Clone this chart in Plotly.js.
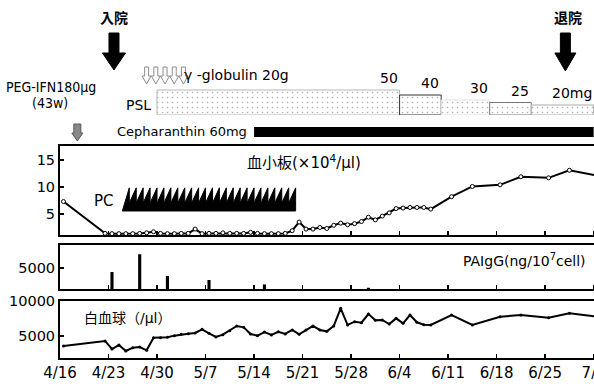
<!DOCTYPE html>
<html><head><meta charset="utf-8">
<script src="https://cdn.plot.ly/plotly-3.0.1.min.js"></script>
<style>html,body{margin:0;padding:0;overflow:hidden;background:#fff}#chart{width:600px;height:388px}</style>
</head><body><div id="chart"></div>
<script>
// ---------- data ----------
const tickDates = ['2004-04-16','2004-04-23','2004-04-30','2004-05-07','2004-05-14','2004-05-21','2004-05-28','2004-06-04','2004-06-11','2004-06-18','2004-06-25','2004-07-02'];
const tickLabels = ['4/16','4/23','4/30','5/7','5/14','5/21','5/28','6/4','6/11','6/18','6/25','7/2'];

const labDates = ['2004-04-16','2004-04-22','2004-04-23','2004-04-24','2004-04-25','2004-04-26','2004-04-27','2004-04-28','2004-04-29','2004-04-30',
  '2004-05-01','2004-05-02','2004-05-03','2004-05-04','2004-05-05','2004-05-06','2004-05-07','2004-05-08','2004-05-09','2004-05-10',
  '2004-05-11','2004-05-12','2004-05-13','2004-05-14','2004-05-15','2004-05-16','2004-05-17','2004-05-18','2004-05-19','2004-05-20',
  '2004-05-21','2004-05-22','2004-05-23','2004-05-24','2004-05-25','2004-05-26','2004-05-27','2004-05-28','2004-05-29','2004-05-30',
  '2004-05-31','2004-06-01','2004-06-02','2004-06-03','2004-06-04','2004-06-05','2004-06-06','2004-06-07','2004-06-08',
  '2004-06-11','2004-06-14','2004-06-18','2004-06-21','2004-06-25','2004-06-28','2004-07-02'];
const plateletValues = [7.3,1.4,1.35,1.35,1.35,1.35,1.4,1.5,1.7,1.4,
  1.35,1.35,1.4,1.4,2.2,1.35,1.4,1.4,1.5,1.4,
  1.4,1.4,1.6,1.4,1.35,1.35,1.35,1.4,1.9,3.5,
  2.2,2.2,2.5,2.3,2.9,3.3,3.0,3.2,3.6,4.4,
  3.9,4.6,5.2,6.0,6.1,6.2,6.2,6.2,5.9,
  8.2,10.1,10.4,11.9,11.7,13.1,12.1];
const wbcValues = [3570,4290,3140,3710,2860,3330,3430,2960,4760,4760,
  4810,5050,5240,5330,5430,5950,5380,4860,5190,5760,
  6430,6240,5290,5050,5570,5140,5610,5290,5860,5240,
  5860,6430,5860,5670,6430,8950,6570,7040,6900,8140,
  7240,7290,6710,7520,6810,8000,6960,6620,6570,
  8000,6570,7760,8000,7620,8240,7760];

const paigDates = ['2004-04-23','2004-04-27','2004-05-01','2004-05-07','2004-05-15','2004-05-30'];
const paigValues = [4050,8300,3100,2150,1100,300];

const pslStart = ['2004-04-30','2004-06-04','2004-06-10','2004-06-17','2004-06-23'];
const pslEnd   = ['2004-06-04','2004-06-10','2004-06-17','2004-06-23','2004-07-02'];
const pslDose  = [50,40,30,25,20];

const cepharStart = '2004-05-14';
const cepharEnd = '2004-07-02';

const pcDays = ['2004-04-25','2004-04-26','2004-04-27','2004-04-28','2004-04-29','2004-04-30','2004-05-01','2004-05-02','2004-05-03',
  '2004-05-04','2004-05-05','2004-05-06','2004-05-07','2004-05-08','2004-05-09','2004-05-10','2004-05-11','2004-05-12',
  '2004-05-13','2004-05-14','2004-05-15','2004-05-16','2004-05-17','2004-05-18','2004-05-19'];
const gammaDays = ['2004-04-28','2004-04-29','2004-04-30','2004-05-01','2004-05-02'];
const pegDate = '2004-04-18';
const admitDate = '2004-04-23';
const dischargeDate = '2004-06-28';

// ---------- helpers ----------
const DAY = 86400000;
function toMs(s){const p=s.split('-').map(Number);return Date.UTC(p[0],p[1]-1,p[2]);}
function fmt(m){return new Date(m).toISOString().slice(0,19).replace('T',' ');}
function noon(s){return fmt(toMs(s)+DAY/2);}
const PH = 358, PW = 540;
const fy = py => (PH-py)/PH;
const fx = px => (px-60)/PW;

const FONT = 'DejaVu Sans, "Noto Sans CJK JP", sans-serif';
const NARROW = '"DejaVu Sans Condensed", "Liberation Sans Narrow", "DejaVu Sans", sans-serif';
const CJK = '"Noto Sans CJK JP", sans-serif';

// ---------- traces ----------
const traces = [];
traces.push({type:'scatter', mode:'lines+markers', x:labDates, y:wbcValues, xaxis:'x', yaxis:'y',
  xperiod:DAY, xperiodalignment:'middle', line:{color:'#000', width:2}, marker:{color:'#000', size:3}, hoverinfo:'skip'});
traces.push({type:'bar', x:paigDates, y:paigValues, xaxis:'x2', yaxis:'y2', xperiod:DAY, xperiodalignment:'middle',
  width:paigDates.map(()=>0.45*DAY), marker:{color:'#000'}, hoverinfo:'skip'});
traces.push({type:'scatter', mode:'lines+markers', x:labDates, y:plateletValues, xaxis:'x3', yaxis:'y3',
  xperiod:DAY, xperiodalignment:'middle', line:{color:'#000', width:2},
  marker:{color:'#fff', size:4, line:{color:'#000', width:1}}, hoverinfo:'skip'});
// PSL dose blocks
traces.push({type:'bar', x:pslStart, y:pslDose, base:0, offset:0, xaxis:'x3', yaxis:'y4',
  width:pslStart.map((s,i)=>toMs(pslEnd[i])-toMs(s)),
  marker:{color:'#fff', pattern:{shape:'.', fgcolor:'#b0b0b0', bgcolor:'#fff', size:5, solidity:0.08},
    line:{color:['#b5b5b5','#333','#e0e0e0','#777','#aaa'], width:1}}, hoverinfo:'skip'});
// Cepharanthin bar
traces.push({type:'bar', x:[cepharStart], y:[1], base:0, offset:0, xaxis:'x3', yaxis:'y5',
  width:[toMs(cepharEnd)-toMs(cepharStart)], marker:{color:'#000', line:{width:0}}, hoverinfo:'skip'});
// PC sawtooth
(function(){
  const bottom=0.27, band=0.36, peak=0.53;
  const xs=[fmt(toMs(pcDays[0]))], ys=[bottom];
  pcDays.forEach((d,i)=>{
    const e=toMs(d)+DAY;
    xs.push(fmt(e)); ys.push(peak);
    xs.push(fmt(e)); ys.push(i===pcDays.length-1?bottom:band);
  });
  xs.push(xs[0]); ys.push(bottom);
  traces.push({type:'scatter', mode:'lines', x:xs, y:ys, fill:'toself', fillcolor:'#000',
    line:{color:'#000', width:1}, xaxis:'x3', yaxis:'y6', hoverinfo:'skip'});
})();

// ---------- axes ----------
const common = {showline:true, linecolor:'#000', linewidth:2, mirror:true, ticks:'inside', ticklen:4,
  tickwidth:1.5, tickcolor:'#000', showgrid:false, zeroline:false, fixedrange:true, ticklabeloverflow:'allow'};
const xrange = [fmt(toMs('2004-04-16')), fmt(toMs('2004-07-02')+22*3600000)];
const xcommon = Object.assign({}, common, {type:'date', range:xrange, tickmode:'array', tickvals:tickDates, ticktext:tickLabels});

const layout = {
  width:600, height:388, margin:{l:60, r:0, t:0, b:30}, paper_bgcolor:'#fff', plot_bgcolor:'rgba(0,0,0,0)',
  showlegend:false, font:{family:FONT, color:'#000'}, barmode:'overlay',
  xaxis: Object.assign({}, xcommon, {anchor:'y', tickfont:{size:15}}),
  xaxis2: Object.assign({}, xcommon, {anchor:'y2', matches:'x', showticklabels:false}),
  xaxis3: Object.assign({}, xcommon, {anchor:'y3', matches:'x', showticklabels:false}),
  yaxis: Object.assign({}, common, {anchor:'x', domain:[0, fy(301)], range:[1857,10000], tickmode:'array',
    tickvals:[5000,10000], ticktext:['5000','10000'], tickfont:{size:14.5}}),
  yaxis2: Object.assign({}, common, {anchor:'x2', domain:[fy(289), fy(245)], range:[0,10500], tickmode:'array',
    tickvals:[5000], ticktext:['5000'], tickfont:{size:14.5}}),
  yaxis3: Object.assign({}, common, {anchor:'x3', domain:[fy(235), fy(146)], range:[1.1,17.6], tickmode:'array',
    tickvals:[5,10,15], ticktext:['5','10','15'], tickfont:{size:14.5}}),
  yaxis4: {anchor:'x3', domain:[fy(115), fy(85)], range:[0,60], visible:false, fixedrange:true},
  yaxis5: {anchor:'x3', domain:[fy(137), fy(127)], range:[0,1], visible:false, fixedrange:true},
  yaxis6: {anchor:'x3', domain:[fy(235), fy(146)], range:[0,1], visible:false, fixedrange:true},
  shapes:[], annotations:[]
};

// arrows (x in pixels relative to the date anchor, y in paper units)
function arrow(anchor, yTop, yNeck, yTip, hs, hh, fill, line, dx){
  dx = dx||0;
  const p = `M${dx-hs},${fy(yTop)} L${dx+hs},${fy(yTop)} L${dx+hs},${fy(yNeck)} L${dx+hh},${fy(yNeck)} L${dx},${fy(yTip)} L${dx-hh},${fy(yNeck)} L${dx-hs},${fy(yNeck)} Z`;
  return {type:'path', xref:'x', xsizemode:'pixel', xanchor:anchor, yref:'paper', path:p,
    fillcolor:fill, line:{color:line, width:1}, layer:'above'};
}
layout.shapes.push(arrow(noon(admitDate), 33, 53, 70, 5, 11.5, '#000', '#000', 2));
layout.shapes.push(arrow(noon(dischargeDate), 33, 53, 71, 5, 10.5, '#000', '#000', -4));
gammaDays.forEach((d,i)=>layout.shapes.push(arrow(noon(gammaDays[0]), 67, 76, 84, 2, 4.5, '#fff', '#8c8c8c', i*9.2)));
layout.shapes.push(arrow(noon(pegDate), 124, 133, 141, 3.5, 5.5, '#888', '#555'));

const A = layout.annotations;
function txt(o){A.push(Object.assign({showarrow:false, xanchor:'center', yanchor:'middle',
  font:{size:14, family:FONT, color:'#000'}}, o));}
txt({text:'<b>入院</b>', xref:'x', x:noon(admitDate), xshift:2, yref:'paper', y:fy(17.5), font:{size:14, family:CJK, color:'#000'}});
txt({text:'<b>退院</b>', xref:'x', x:noon(dischargeDate), xshift:-1, yref:'paper', y:fy(17.5), font:{size:14, family:CJK, color:'#000'}});
txt({text:'PEG-IFN180μg', xref:'paper', x:fx(51), yref:'paper', y:fy(87), font:{size:14, family:NARROW, color:'#000'}});
txt({text:'(43w)', xref:'paper', x:fx(50), yref:'paper', y:fy(103), font:{size:14, family:NARROW, color:'#000'}});
txt({text:'γ -globulin 20g', xref:'x', x:noon(gammaDays[gammaDays.length-1]), xshift:8, xanchor:'left', yref:'paper', y:fy(75)});
txt({text:'PSL', xref:'x', x:pslStart[0], xanchor:'right', xshift:-4, yref:'paper', y:fy(105)});
txt({text:'Cepharanthin 60mg', xref:'x', x:cepharStart, xanchor:'right', xshift:-5, yref:'paper', y:fy(131), font:{size:13, family:FONT, color:'#000'}});
pslDose.forEach((d,i)=>txt({text: i===pslDose.length-1 ? d+'mg' : String(d), xref:'x3', x:pslEnd[i], xanchor:'right',
  yref:'y4', y:d, yanchor:'bottom', yshift:2}));
txt({text:'PC', xref:'x', x:pcDays[0], xanchor:'right', xshift:-6, yref:'paper', y:fy(201), font:{size:15, family:FONT, color:'#000'}});
txt({text:'血小板(×10<sup>4</sup>/μl)', xref:'paper', x:fx(304), yref:'paper', y:fy(162), font:{size:15, family:FONT, color:'#000'}});
txt({text:'PAIgG(ng/10<sup>7</sup>cell)', xref:'paper', x:fx(588), xanchor:'right', yref:'paper', y:fy(260)});
txt({text:'白血球（/μl）', xref:'paper', x:fx(82), xanchor:'left', yref:'paper', y:fy(318)});

Plotly.newPlot('chart', traces, layout, {displayModeBar:false, staticPlot:true});
</script></body></html>
